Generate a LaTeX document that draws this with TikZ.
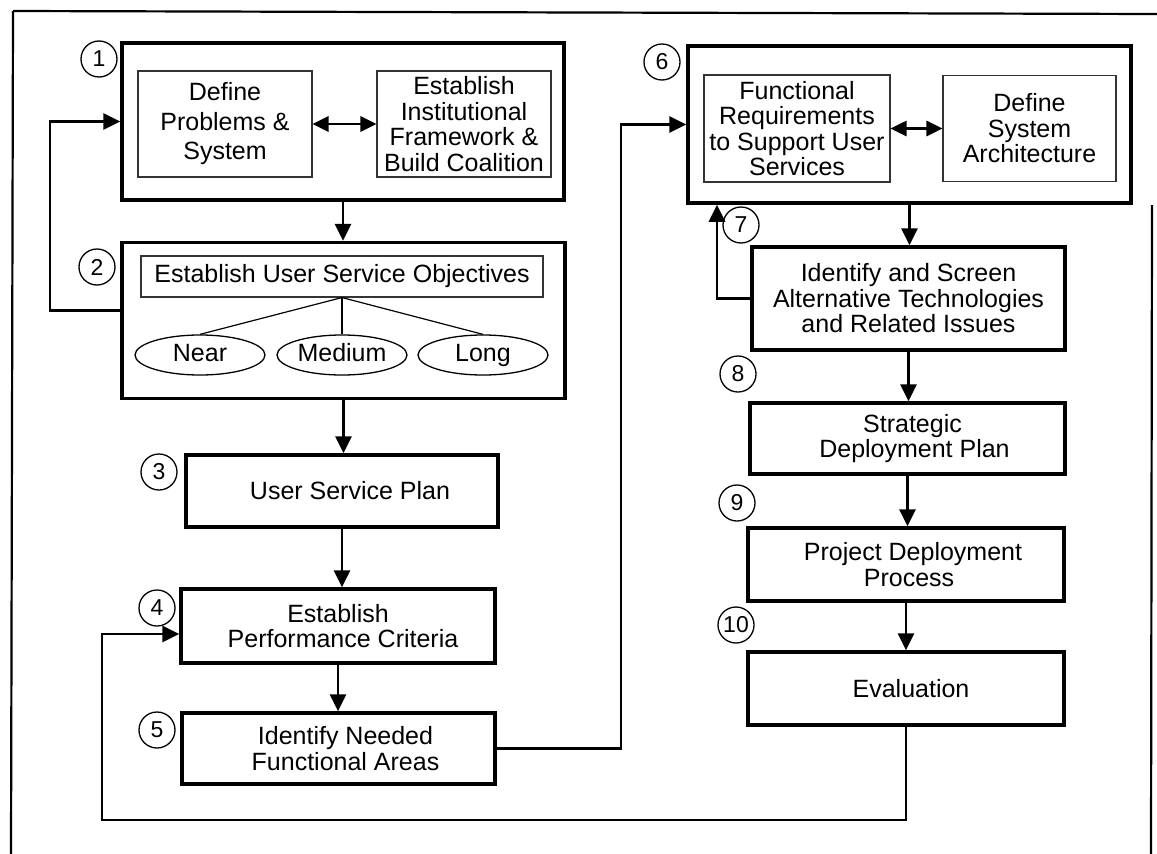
\documentclass[tikz,border=0pt]{standalone}
\usepackage{fontspec}
\setmainfont{Liberation Sans}
\usetikzlibrary{arrows.meta,shapes.geometric,calc}
\begin{document}
\begin{tikzpicture}[x=1pt,y=-1pt,
  every node/.style={font=\fontsize{25}{25.5}\selectfont},
  bigbox/.style={draw,line width=3.5pt,inner sep=0pt},
  stepbox/.style={draw,line width=3.5pt,align=center,inner sep=0pt},
  subbox/.style={draw,black!80,text=black,line width=1.1pt,align=center,inner sep=0pt},
  oval/.style={draw,ellipse,line width=1.3pt,minimum width=130pt,minimum height=40pt,inner sep=0pt,text height=18pt,text depth=5pt},
  num/.style={draw,circle,line width=1.3pt,minimum size=36pt,inner sep=0pt,font=\fontsize{23}{23}\selectfont},
  arr/.style={line width=2.8pt,-{Triangle[length=17pt,width=16pt]}},
  darr/.style={line width=2.8pt,{Triangle[length=16pt,width=15pt]}-{Triangle[length=16pt,width=15pt]}},
  thinline/.style={line width=1.2pt},
  frame/.style={line width=2.2pt}]
\useasboundingbox (0,0) rectangle (1157,854);

% outer frame
\draw[frame] (13,11) -- (1157,14);
\draw[frame] (13,11) -- (11,854);
\draw[frame] (1152,205) -- (1151,854);

% ---- left column ----
\node[bigbox,minimum width=442pt,minimum height=157pt] (b1) at (343,121.5) {};
\node[subbox,minimum width=174pt,minimum height=106pt,font=\fontsize{25}{29.5}\selectfont] (b1a) at (225,124) {Define\\Problems \&\\System};
\node[subbox,minimum width=174pt,minimum height=106pt] (b1b) at (464,124) {Establish\\Institutional\\Framework \&\\Build Coalition};
\node[num] (n1) at (99,59) {1};

\node[bigbox,minimum width=443pt,minimum height=156pt] (b2) at (343.5,320.5) {};
\node[subbox,minimum width=402pt,minimum height=41pt] (obj) at (342,276.5) {Establish User Service Objectives};
\node[oval] (near) at (200,355) {Near};
\node[oval] (med) at (342,355) {Medium};
\node[oval] (long) at (483,355) {Long};
\node[num] (n2) at (97,267) {2};

\node[stepbox,minimum width=312pt,minimum height=72pt] (b3) at (342,491) {\hspace*{16pt}User Service Plan};
\node[num] (n3) at (159,472) {3};
\node[stepbox,minimum width=314pt,minimum height=74pt] (b4) at (338,626) {Establish\\\hspace*{10pt}Performance Criteria};
\node[num] (n4) at (157,608) {4};
\node[stepbox,minimum width=313pt,minimum height=71pt] (b5) at (338.5,748.5) {\hspace*{14pt}Identify Needed\\\hspace*{14pt}Functional Areas};
\node[num] (n5) at (157,730) {5};

% ---- right column ----
\node[bigbox,minimum width=443pt,minimum height=157pt] (b6) at (909.5,124.5) {};
\node[subbox,minimum width=186pt,minimum height=107pt] (b6a) at (797,128.5) {Functional\\Requirements\\to Support User\\Services};
\node[subbox,minimum width=173pt,minimum height=106pt] (b6b) at (1029.5,128.5) {Define\\System\\Architecture};
\node[num] (n6) at (662,62) {6};

\node[stepbox,minimum width=313pt,minimum height=103pt] (b7) at (908.5,298.5) {Identify and Screen\\Alternative Technologies\\and Related Issues};
\node[num] (n7) at (741,225) {7};
\node[stepbox,minimum width=315pt,minimum height=71pt] (b8) at (907.5,438.5) {\hspace*{10pt}Strategic\\\hspace*{14pt}Deployment Plan};
\node[num] (n8) at (738,374) {8};
\node[stepbox,minimum width=316pt,minimum height=73pt] (b9) at (906,564.5) {\hspace*{14pt}Project Deployment\\\hspace*{6pt}Process};
\node[num] (n9) at (737,503) {9};
\node[stepbox,minimum width=316pt,minimum height=73pt] (b10) at (906,688.5) {\hspace*{10pt}Evaluation};
\node[num] (n10) at (736,625) {10};

% ---- connectors ----
\draw[darr] (b1a.east) -- (b1b.west);
\draw[darr] (b6a.east) -- (b6a.east -| b6b.west);

\draw[thinline] (obj.south) -- (near.north);
\draw[thinline] (obj.south) -- (med.north);
\draw[thinline] (obj.south) -- (long.north);

\draw[arr] (b1.south) -- (b1.south |- b2.north);
\draw[arr] (b2.south) -- (b2.south |- b3.north);
\draw[arr] (b3.south) -- (b3.south |- b4.north);
\draw[arr] (b4.south) -- (b4.south |- b5.north);

\draw[arr] (b6.south) -- (b6.south |- b7.north);
\draw[arr] (b7.south) -- (b7.south |- b8.north);
\draw[arr] (b8.south) -- (b8.south |- b9.north);
\draw[arr] (b9.south) -- (b9.south |- b10.north);

% feedback loops
\coordinate (fa) at (50,0);
\draw[arr] ([yshift=10pt]b2.west) -| (fa |- b1.west) -- (b1.west);

\coordinate (k1) at (621,0);
\draw[arr] (b5.east) -| (k1 |- b6.west) -- (b6.west);

\coordinate (k2) at (717,0);
\draw[arr] (b7.west) -| (k2 |- b6.south);

\coordinate (k3) at (102,820);
\draw[arr] (b10.south) |- (k3) |- ([yshift=-8pt]b4.west);
\end{tikzpicture}
\end{document}
